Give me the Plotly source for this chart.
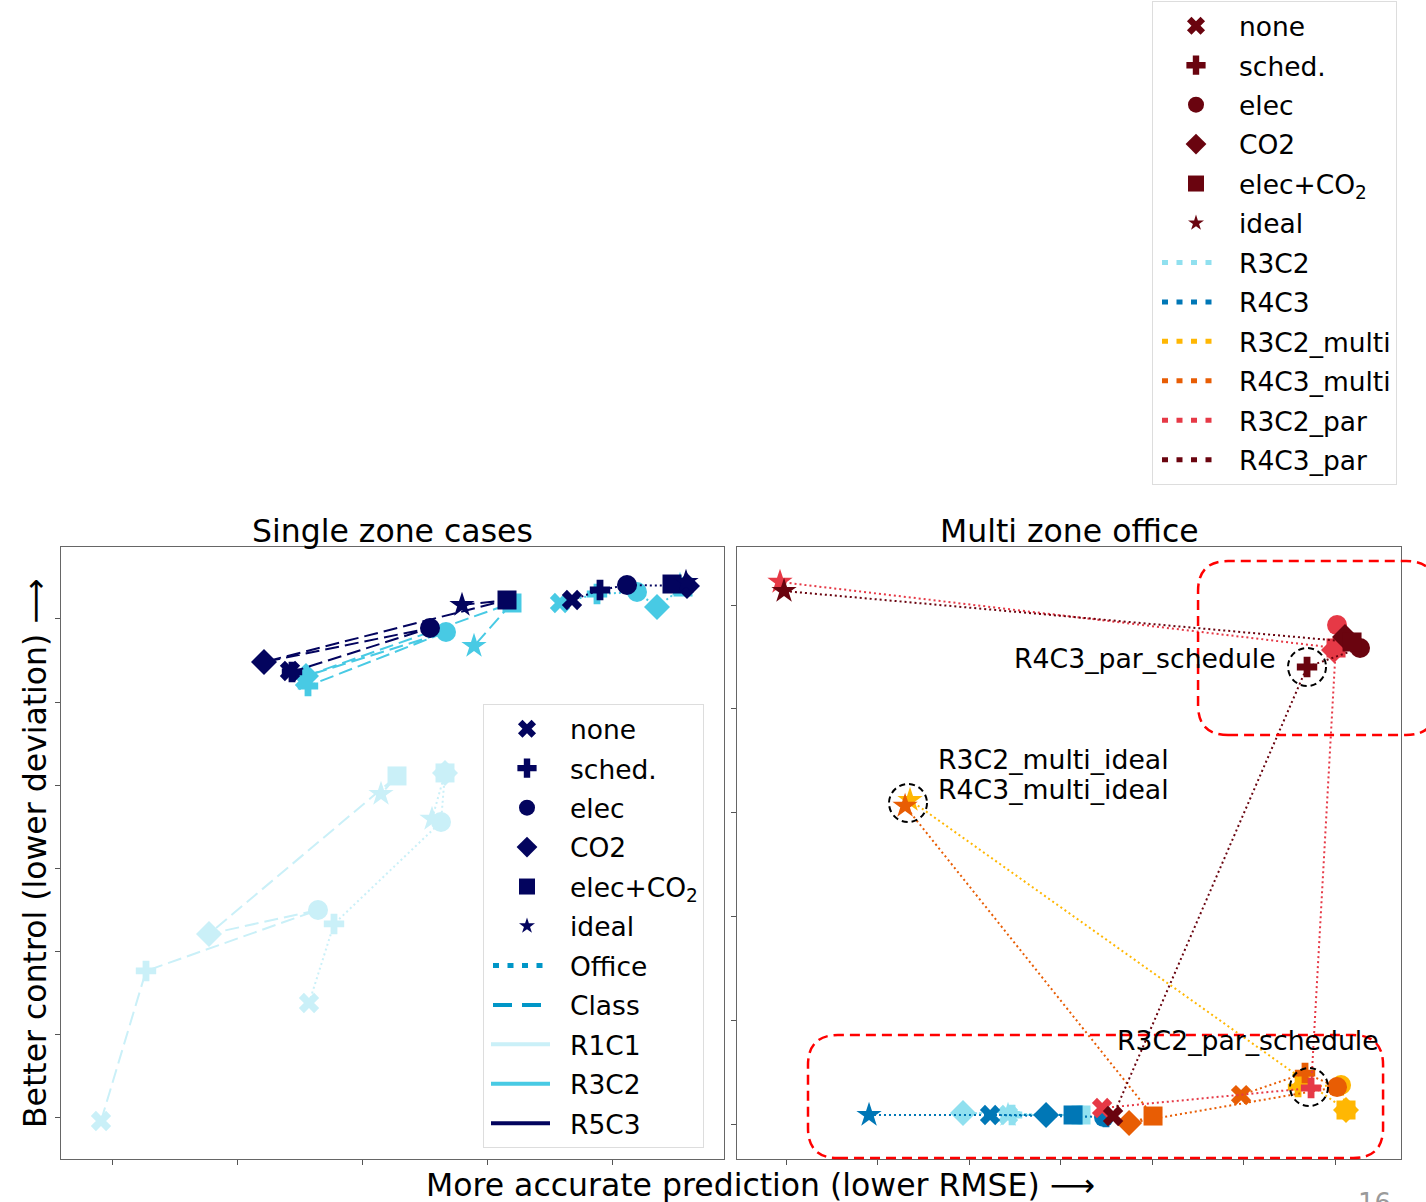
import plotly.graph_objects as go

W, H = 1426, 1202
FONT = "DejaVu Sans"

# ---------------- categories / markers ----------------
categories = ["none", "sched.", "elec", "CO2", "elec+CO<sub>2</sub>", "ideal"]
symbols = ["x", "cross", "circle", "diamond", "square", "star"]
sizes = [18, 17, 20, 20, 19, 19]

# ---------------- Single zone cases (left) ----------------
office_r1c1_x = [2.576, 2.776, 3.632, 3.664, 3.664, 3.560]
office_r1c1_y = [1.382, 2.332, 3.558, 4.147, 4.147, 3.594]
class_r1c1_x = [0.912, 1.272, 2.648, 1.776, 3.280, 3.152]
class_r1c1_y = [-0.036, 1.767, 2.500, 2.212, 4.111, 3.894]

office_r3c2_x = [4.584, 4.880, 5.200, 5.360, 5.568, 5.544]
office_r3c2_y = [6.190, 6.298, 6.322, 6.142, 6.382, 6.406]
class_r3c2_x = [2.544, 2.568, 3.672, 2.552, 4.200, 3.896]
class_r3c2_y = [5.264, 5.192, 5.841, 5.313, 6.190, 5.673]

office_r5c3_x = [4.680, 4.904, 5.120, 5.600, 5.480, 5.592]
office_r5c3_y = [6.226, 6.346, 6.406, 6.394, 6.418, 6.442]
class_r5c3_x = [2.424, 2.440, 3.544, 2.216, 4.160, 3.800]
class_r5c3_y = [5.373, 5.361, 5.889, 5.481, 6.226, 6.166]

# ---------------- Multi zone office (right) ----------------
r3c2_x = [2.426, 2.470, 3.213, 1.934, 3.224, 2.426]
r3c2_y = [0.087, 0.087, 0.087, 0.106, 0.087, 0.087]
r4c3_x = [2.230, 3.497, 3.475, 2.842, 3.137, 0.907]
r4c3_y = [0.087, 0.067, 0.067, 0.087, 0.087, 0.087]
r3c2_multi_x = [5.639, 5.596, 6.066, 6.120, 6.120, 1.355]
r3c2_multi_y = [0.424, 0.356, 0.376, 0.135, 0.135, 3.121]
r4c3_multi_x = [4.973, 5.672, 6.022, 3.749, 4.011, 1.301]
r4c3_multi_y = [0.279, 0.491, 0.356, 0.010, 0.077, 3.064]
r3c2_par_x = [3.454, 5.738, 6.022, 5.989, 6.011, -0.066]
r3c2_par_y = [0.154, 0.347, 4.807, 4.566, 4.586, 5.222]
r4c3_par_x = [3.574, 5.694, 6.273, 6.109, 6.186, -0.022]
r4c3_par_y = [0.077, 4.403, 4.586, 4.692, 4.644, 5.135]

# colours
C_R1C1, C_R3C2_S, C_R5C3 = "#caf0f8", "#48cae4", "#03045e"
C_LEG_LS = "#0096c7"
C_R3C2, C_R4C3 = "#90e0ef", "#0077b6"
C_R3C2_M, C_R4C3_M = "#ffb703", "#e85d04"
C_R3C2_P, C_R4C3_P = "#e63946", "#6a040f"

DOT = "2px,3px"
DASH = "14px,6px"
# legend samples (shorter than plotly's default sample length)
LEG_DOT = "0px,4px,6px,8.5px,6px,8.5px,6px,8.5px,6px,100px"
LEG_DASH = "0px,4px,19px,10px,19px,100px"
LEG_SOLID = "0px,2px,59px,100px"

# axis geometry
LX = [0.592, 5.896]
LY = [-0.493, 6.863]
RX = [-0.536, 6.721]
RY = [-0.337, 5.559]
XD_L = [61 / W, 724 / W]
XD_R = [737 / W, 1401 / W]
YD = [1 - 1159 / H, 1 - 547 / H]

fig = go.Figure()


def series(x, y, color, dash, xa, ya):
    fig.add_trace(go.Scatter(
        x=x, y=y, mode="lines+markers", xaxis=xa, yaxis=ya,
        line=dict(color=color, width=2, dash=dash),
        marker=dict(symbol=symbols, size=sizes, color=color, opacity=1, line=dict(width=0)),
        showlegend=False, hoverinfo="skip"))


# left panel
series(office_r1c1_x, office_r1c1_y, C_R1C1, DOT, "x", "y")
series(class_r1c1_x, class_r1c1_y, C_R1C1, DASH, "x", "y")
series(office_r3c2_x, office_r3c2_y, C_R3C2_S, DOT, "x", "y")
series(class_r3c2_x, class_r3c2_y, C_R3C2_S, DASH, "x", "y")
series(office_r5c3_x, office_r5c3_y, C_R5C3, DOT, "x", "y")
series(class_r5c3_x, class_r5c3_y, C_R5C3, DASH, "x", "y")

# right panel
series(r3c2_x, r3c2_y, C_R3C2, DOT, "x2", "y2")
series(r4c3_x, r4c3_y, C_R4C3, DOT, "x2", "y2")
series(r3c2_multi_x, r3c2_multi_y, C_R3C2_M, DOT, "x2", "y2")
series(r4c3_multi_x, r4c3_multi_y, C_R4C3_M, DOT, "x2", "y2")
series(r3c2_par_x, r3c2_par_y, C_R3C2_P, DOT, "x2", "y2")
series(r4c3_par_x, r4c3_par_y, C_R4C3_P, DOT, "x2", "y2")

# ---------------- legends ----------------
leg_sizes = [16, 16, 16, 16, 16, 12]
_gid = [0]


def _group():
    _gid[0] += 1
    return f"g{_gid[0]}"


def legend_markers(color, legend):
    for name, sym, s in zip(categories, symbols, leg_sizes):
        fig.add_trace(go.Scatter(
            x=[None], y=[None], mode="markers", name=name, legend=legend,
            legendgroup=_group(),
            marker=dict(symbol=sym, size=s, color=color, opacity=1, line=dict(width=0))))


def legend_line(name, color, dash, legend, width=5):
    fig.add_trace(go.Scatter(
        x=[None], y=[None], mode="lines", name=name, legend=legend,
        legendgroup=_group(),
        line=dict(color=color, width=width, dash=dash)))


legend_markers(C_R4C3_P, "legend")
for nm, col in [("R3C2", C_R3C2), ("R4C3", C_R4C3), ("R3C2_multi", C_R3C2_M),
                ("R4C3_multi", C_R4C3_M), ("R3C2_par", C_R3C2_P), ("R4C3_par", C_R4C3_P)]:
    legend_line(nm, col, LEG_DOT, "legend")

legend_markers(C_R5C3, "legend2")
legend_line("Office", C_LEG_LS, LEG_DOT, "legend2")
legend_line("Class", C_LEG_LS, LEG_DASH, "legend2", width=4)
legend_line("R1C1", C_R1C1, LEG_SOLID, "legend2", width=4)
legend_line("R3C2", C_R3C2_S, LEG_SOLID, "legend2", width=4)
legend_line("R5C3", C_R5C3, LEG_SOLID, "legend2", width=4)

# ---------------- axes ----------------
ax_common = dict(showticklabels=False, ticks="outside", ticklen=5, tickcolor="#555",
                 showline=True, linecolor="#666", linewidth=1, mirror=True,
                 showgrid=False, zeroline=False)

leg_common = dict(font=dict(size=26.5, family=FONT), bgcolor="white",
                  bordercolor="#dddddd", borderwidth=1, itemsizing="trace",
                  itemwidth=76, tracegroupgap=2, traceorder="grouped")

fig.update_layout(
    width=W, height=H, margin=dict(l=0, r=0, t=0, b=0),
    paper_bgcolor="white", plot_bgcolor="white",
    font=dict(family=FONT, color="black"),
    xaxis=dict(domain=XD_L, range=LX, tickvals=[1, 2, 3, 4, 5], **ax_common),
    yaxis=dict(domain=YD, range=LY, tickvals=[0, 1, 2, 3, 4, 5, 6], **ax_common),
    xaxis2=dict(domain=XD_R, range=RX, tickvals=[0, 1, 2, 3, 4, 5, 6], anchor="y2", **ax_common),
    yaxis2=dict(domain=YD, range=RY, tickvals=[0, 1, 2, 3, 4, 5], anchor="x2", **ax_common),
    legend=dict(x=1152 / W, y=1 - 1 / H, xanchor="left", yanchor="top", **leg_common),
    legend2=dict(x=483 / W, y=1 - 704 / H, xanchor="left", yanchor="top", **leg_common),
)

# ---------------- annotations ----------------
ann = []
ann.append(dict(text="Single zone cases", x=392.5 / W, y=1 - 531 / H, xref="paper", yref="paper",
                showarrow=False, font=dict(size=31.5), xanchor="center", yanchor="middle"))
ann.append(dict(text="Multi zone office", x=1069 / W, y=1 - 531 / H, xref="paper", yref="paper",
                showarrow=False, font=dict(size=31.5), xanchor="center", yanchor="middle"))
ann.append(dict(text="More accurate prediction (lower RMSE) \u27f6", x=760 / W, y=1 - 1185 / H,
                xref="paper", yref="paper", showarrow=False, font=dict(size=31.5),
                xanchor="center", yanchor="middle"))
ann.append(dict(text="Better control (lower deviation) \u27f6", x=35 / W, y=1 - 853 / H,
                xref="paper", yref="paper", showarrow=False, font=dict(size=31.5),
                textangle=-90, xanchor="center", yanchor="middle"))
ann.append(dict(text="16", x=1374 / W, y=1 - 1186 / H, xref="paper", yref="paper",
                showarrow=False, font=dict(size=26, color="#9a9a9a"),
                xanchor="center", yanchor="top"))

label_font = dict(size=26.7)
ann.append(dict(text="R4C3_par_schedule", x=5.377, y=4.489, xref="x2", yref="y2",
                showarrow=False, font=label_font, xanchor="right", yanchor="middle"))
ann.append(dict(text="R3C2_multi_ideal", x=1.639, y=3.516, xref="x2", yref="y2",
                showarrow=False, font=label_font, xanchor="left", yanchor="middle"))
ann.append(dict(text="R4C3_multi_ideal", x=1.639, y=3.218, xref="x2", yref="y2",
                showarrow=False, font=label_font, xanchor="left", yanchor="middle"))
ann.append(dict(text="R3C2_par_schedule", x=3.596, y=0.809, xref="x2", yref="y2",
                showarrow=False, font=label_font, xanchor="left", yanchor="middle"))
fig.update_layout(annotations=ann)

# ---------------- highlight shapes ----------------
shapes = []
highlights = [(r4c3_par_x[1], r4c3_par_y[1]), (1.333, 3.092), (5.716, 0.356)]
for cx, cy in highlights:
    shapes.append(dict(type="circle", xref="x2", yref="y2", xsizemode="pixel", ysizemode="pixel",
                       xanchor=cx, yanchor=cy, x0=-19, x1=19, y0=-19, y1=19,
                       line=dict(color="black", width=2, dash="6px,4px")))


def rx2paper(v):
    return XD_R[0] + (v - RX[0]) / (RX[1] - RX[0]) * (XD_R[1] - XD_R[0])


def ry2paper(v):
    return YD[0] + (v - RY[0]) / (RY[1] - RY[0]) * (YD[1] - YD[0])


def rounded_rect(x0, x1, y0, y1, rpx=30):
    a, b = rx2paper(x0), rx2paper(x1)
    c, d = ry2paper(y0), ry2paper(y1)
    rx, ry = rpx / W, rpx / H
    p = (f"M {a+rx},{c} L {b-rx},{c} Q {b},{c} {b},{c+ry} L {b},{d-ry} Q {b},{d} {b-rx},{d} "
         f"L {a+rx},{d} Q {a},{d} {a},{d-ry} L {a},{c+ry} Q {a},{c} {a+rx},{c} Z")
    return dict(type="path", xref="paper", yref="paper", path=p,
                line=dict(color="#ff0000", width=2.5, dash="10px,6px"))


box_top = (4.503, 7.104, 3.748, 5.424)
box_bottom = (0.240, 6.525, -0.328, 0.857)
shapes.append(rounded_rect(*box_top))
shapes.append(rounded_rect(*box_bottom))
fig.update_layout(shapes=shapes)

fig.write_html("out.html", config={"displayModeBar": False},
               post_script="document.body.style.margin='0px';")
